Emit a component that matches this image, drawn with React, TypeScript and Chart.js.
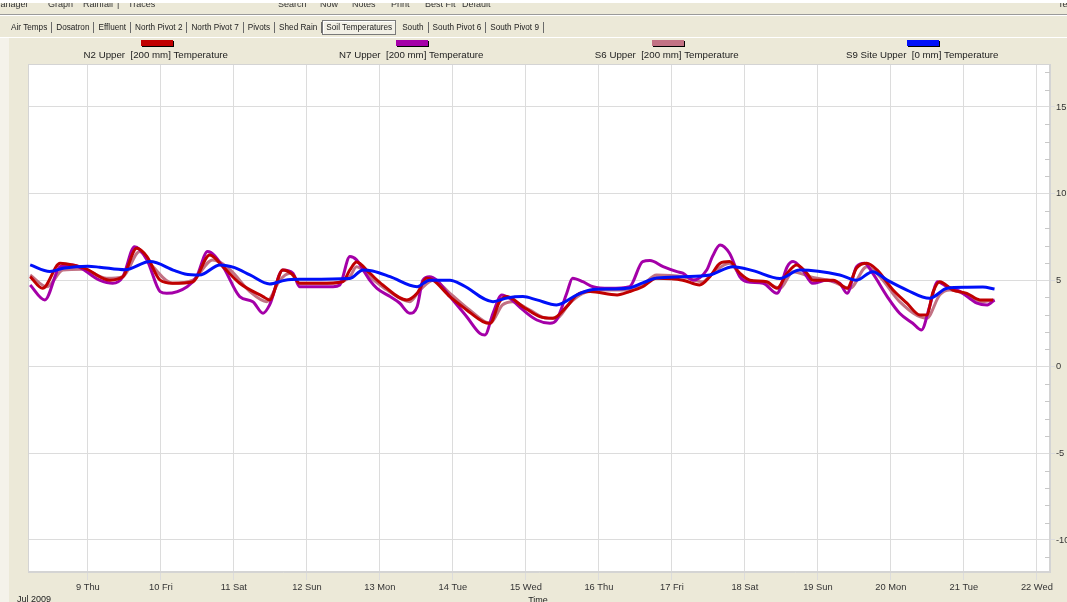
import React, { useEffect, useRef } from "react";
import { Chart, registerables } from "chart.js";

Chart.register(...registerables);

// ---------- data ----------
const seriesNames = [
  "N2 Upper  [200 mm] Temperature",
  "N7 Upper  [200 mm] Temperature",
  "S6 Upper  [200 mm] Temperature",
  "S9 Site Upper  [0 mm] Temperature",
];
const seriesColors = ["#C00000", "#A400A8", "#C27284", "#0010F8"];
const drawOrder = [1, 2, 3, 0];

// x values are day-of-month (July 2009), y values °C
const n2Days = [8.21, 8.38, 8.62, 8.79, 8.99, 9.16, 9.3, 9.48, 9.67, 9.81, 9.99, 10.16, 10.44, 10.67, 10.85, 11.08, 11.4, 11.49, 11.67, 11.81, 11.9, 12.18, 12.49, 12.59, 12.68, 12.86, 13.04, 13.37, 13.51, 13.64, 13.73, 13.96, 14.19, 14.41, 14.51, 14.64, 14.74, 14.96, 15.19, 15.37, 15.56, 15.7, 15.88, 16.25, 16.42, 16.6, 16.79, 17.15, 17.38, 17.52, 17.66, 17.79, 17.93, 18.07, 18.3, 18.44, 18.58, 18.71, 18.85, 18.93, 19.21, 19.4, 19.53, 19.67, 19.81, 20.03, 20.22, 20.4, 20.49, 20.58, 20.67, 20.85, 21.04, 21.22, 21.4];
const n2Temps = [5.2, 4.53, 5.97, 5.88, 5.63, 5.2, 5.0, 5.2, 6.84, 6.36, 5.0, 4.82, 4.91, 6.45, 5.78, 4.82, 4.05, 3.86, 5.59, 5.3, 4.82, 4.82, 4.91, 5.59, 6.05, 5.4, 4.72, 3.86, 4.24, 5.11, 5.0, 4.05, 3.28, 2.61, 2.51, 3.76, 4.05, 3.47, 2.89, 2.8, 3.47, 4.15, 4.34, 4.15, 4.34, 4.62, 5.11, 5.0, 4.72, 5.2, 5.97, 6.07, 5.4, 5.0, 4.91, 4.53, 5.4, 5.88, 5.4, 5.0, 5.0, 4.53, 5.69, 5.97, 5.59, 4.43, 3.67, 2.99, 2.99, 4.34, 4.91, 4.43, 4.24, 3.86, 3.86];

const n7Days = [8.21, 8.41, 8.62, 8.79, 9.16, 9.34, 9.48, 9.64, 9.81, 9.99, 10.08, 10.36, 10.49, 10.64, 10.85, 11.08, 11.26, 11.4, 11.49, 11.67, 11.81, 11.9, 12.36, 12.45, 12.59, 12.68, 12.86, 12.96, 13.14, 13.27, 13.41, 13.51, 13.59, 13.68, 13.78, 13.96, 14.19, 14.37, 14.44, 14.55, 14.67, 14.78, 14.96, 15.15, 15.33, 15.42, 15.56, 15.64, 15.78, 15.92, 16.15, 16.42, 16.6, 16.7, 16.88, 17.07, 17.15, 17.29, 17.48, 17.56, 17.66, 17.79, 17.93, 18.03, 18.25, 18.44, 18.58, 18.66, 18.79, 18.93, 19.12, 19.3, 19.4, 19.53, 19.64, 19.75, 19.95, 20.12, 20.3, 20.42, 20.53, 20.64, 20.77, 20.95, 21.18, 21.32, 21.42];
const n7Temps = [4.72, 3.86, 5.78, 5.88, 5.0, 4.82, 5.2, 6.93, 6.17, 4.34, 4.24, 4.62, 5.2, 6.65, 5.78, 4.05, 3.76, 3.09, 3.57, 5.59, 5.4, 4.62, 4.62, 4.72, 6.36, 6.17, 5.0, 4.53, 4.05, 3.68, 3.09, 3.47, 5.0, 5.2, 5.0, 4.05, 2.89, 1.93, 1.84, 3.09, 4.15, 3.95, 3.28, 2.7, 2.51, 2.7, 4.24, 5.11, 4.91, 4.62, 4.53, 4.62, 6.07, 6.13, 5.78, 5.49, 5.4, 5.0, 5.6, 6.4, 7.03, 6.55, 5.2, 4.91, 4.82, 4.24, 5.78, 6.07, 5.59, 4.82, 5.0, 4.82, 4.24, 5.78, 5.97, 5.4, 4.05, 3.09, 2.51, 2.12, 3.47, 4.91, 4.62, 4.34, 3.67, 3.57, 3.86];

const s6Days = [8.21, 8.44, 8.66, 8.93, 9.26, 9.48, 9.71, 9.89, 10.16, 10.44, 10.71, 10.95, 11.22, 11.45, 11.63, 11.77, 11.9, 12.36, 12.59, 12.68, 12.86, 13.1, 13.41, 13.55, 13.73, 13.96, 14.23, 14.51, 14.68, 14.82, 15.05, 15.29, 15.42, 15.6, 15.78, 16.05, 16.42, 16.6, 16.79, 17.15, 17.42, 17.56, 17.79, 17.97, 18.3, 18.48, 18.66, 18.89, 19.21, 19.44, 19.67, 19.85, 20.12, 20.49, 20.67, 20.81, 21.04, 21.26, 21.42];
const s6Temps = [5.3, 4.62, 5.59, 5.63, 5.11, 5.2, 6.65, 5.78, 4.82, 5.0, 6.17, 5.59, 4.34, 3.76, 5.0, 5.4, 4.82, 4.82, 5.2, 5.78, 5.2, 4.43, 3.76, 4.43, 5.0, 4.24, 3.28, 2.51, 3.57, 3.76, 3.28, 2.8, 2.8, 3.67, 4.24, 4.43, 4.43, 4.72, 5.3, 5.2, 4.91, 5.4, 5.97, 5.11, 4.82, 4.53, 5.49, 5.2, 4.91, 4.53, 5.78, 5.2, 3.76, 2.8, 4.15, 4.43, 4.15, 3.76, 3.86];

const s9Days = [8.21, 8.48, 8.68, 9.0, 9.16, 9.51, 9.85, 10.19, 10.33, 10.53, 10.81, 11.01, 11.22, 11.49, 11.7, 11.9, 12.59, 12.77, 12.9, 13.14, 13.51, 13.68, 13.96, 14.14, 14.55, 14.74, 14.96, 15.15, 15.42, 15.7, 15.88, 16.15, 16.42, 16.6, 16.79, 17.15, 17.52, 17.84, 18.11, 18.48, 18.75, 19.3, 19.53, 19.75, 19.95, 20.22, 20.53, 20.77, 21.04, 21.26, 21.42];
const s9Temps = [5.88, 5.5, 5.7, 5.8, 5.75, 5.6, 6.07, 5.55, 5.36, 5.3, 5.88, 5.72, 5.3, 4.78, 5.0, 5.05, 5.1, 5.59, 5.53, 5.2, 4.62, 5.0, 5.0, 4.7, 3.76, 3.97, 4.05, 3.86, 3.57, 4.15, 4.43, 4.49, 4.55, 4.84, 5.12, 5.2, 5.3, 5.78, 5.55, 5.1, 5.59, 5.3, 5.0, 5.49, 5.0, 4.43, 3.95, 4.53, 4.59, 4.6, 4.49];

const dayTicks = [9, 10, 11, 12, 13, 14, 15, 16, 17, 18, 19, 20, 21, 22];
const dayLabels = ["9 Thu", "10 Fri", "11 Sat", "12 Sun", "13 Mon", "14 Tue", "15 Wed", "16 Thu", "17 Fri", "18 Sat", "19 Sun", "20 Mon", "21 Tue", "22 Wed"];
const xMin = 8.18;
const xMax = 22.18;
const yTickValues = [-10, -5, 0, 5, 10, 15];
const yMin = -11.85;
const yMax = 17.48;
const monthLabel = "Jul 2009";
const xTitle = "Time";

const toolbarItems = [
  { text: "Manager", left: -7 },
  { text: "Graph", left: 48 },
  { text: "Rainfall", left: 83 },
  { text: "|", left: 117 },
  { text: "Traces", left: 128 },
  { text: "Search", left: 278 },
  { text: "Now", left: 320 },
  { text: "Notes", left: 352 },
  { text: "Print", left: 391 },
  { text: "Best Fit", left: 425 },
  { text: "Default", left: 462 },
  { text: "Te", left: 1058 },
];
const tabLabels = ["Air Temps", "Dosatron", "Effluent", "North Pivot 2", "North Pivot 7", "Pivots", "Shed Rain", "Soil Temperatures", "South", "South Pivot 6", "South Pivot 9"];
const selectedTab = "Soil Temperatures";

const FONT = '"Liberation Sans", Arial, sans-serif';

function toPoints(days: number[], temps: number[]) {
  return days.map((d, i) => ({ x: d, y: temps[i] }));
}

const chromePlugin = {
  id: "chrome",
  beforeDraw(chart: any) {
    const { ctx, chartArea, width, height } = chart;
    ctx.save();
    ctx.fillStyle = "#ECE9D8";
    ctx.fillRect(0, 0, width, height);
    ctx.fillStyle = "#F4F2EA";
    ctx.fillRect(0, 37, 9, height - 37);
    ctx.fillStyle = "#FFFFFF";
    ctx.fillRect(chartArea.left, chartArea.top, chartArea.right - chartArea.left, chartArea.bottom - chartArea.top);
    ctx.restore();
  },
  afterDraw(chart: any) {
    const { ctx, chartArea, scales } = chart;
    ctx.save();
    // frame
    ctx.strokeStyle = "#D4D4D4";
    ctx.lineWidth = 1;
    ctx.strokeRect(chartArea.left + 0.5, chartArea.top + 0.5, chartArea.right - chartArea.left - 1, chartArea.bottom - chartArea.top - 1);
    // minor ticks on right axis
    const ys = scales.y;
    ctx.strokeStyle = "#C8C8C8";
    for (let v = Math.ceil(yMin); v <= Math.floor(yMax); v++) {
      if (v % 5 === 0) continue;
      const py = Math.round(ys.getPixelForValue(v)) + 0.5;
      ctx.beginPath();
      ctx.moveTo(chartArea.right - 5, py);
      ctx.lineTo(chartArea.right, py);
      ctx.stroke();
    }
    // legend
    const w = (chartArea.right - chartArea.left) / seriesNames.length;
    ctx.font = `9.7px ${FONT}`;
    ctx.textAlign = "center";
    ctx.textBaseline = "middle";
    seriesNames.forEach((name, i) => {
      const cx = chartArea.left + w * (i + 0.5);
      const sx = Math.round(cx - 15);
      ctx.fillStyle = "#000000";
      ctx.fillRect(sx + 1, 41, 32, 6);
      ctx.fillStyle = seriesColors[i];
      ctx.fillRect(sx, 40, 32, 6);
      ctx.fillStyle = "#222222";
      ctx.fillText(name, cx, 55);
    });
    // bottom labels
    ctx.font = `9px ${FONT}`;
    ctx.textBaseline = "top";
    ctx.textAlign = "left";
    ctx.fillText(monthLabel, 17, 595);
    ctx.textAlign = "center";
    ctx.fillText(xTitle, 538, 596);
    ctx.restore();
  },
};

export default function App() {
  const canvasRef = useRef<HTMLCanvasElement | null>(null);

  useEffect(() => {
    const canvas = canvasRef.current;
    if (!canvas) return;
    const allDays = [n2Days, n7Days, s6Days, s9Days];
    const allTemps = [n2Temps, n7Temps, s6Temps, s9Temps];
    const chart = new Chart(canvas, {
      type: "line",
      data: {
        datasets: seriesNames.map((name, i) => ({
          label: name,
          data: toPoints(allDays[i], allTemps[i]),
          borderColor: seriesColors[i],
          backgroundColor: seriesColors[i],
          borderWidth: 3,
          pointRadius: 0,
          cubicInterpolationMode: "monotone" as const,
          fill: false,
          order: drawOrder[i],
        })),
      },
      options: {
        animation: false,
        responsive: true,
        maintainAspectRatio: false,
        parsing: false as any,
        layout: { padding: { top: 64, left: 28, right: 0, bottom: 0 } },
        plugins: { legend: { display: false }, tooltip: { enabled: false } },
        scales: {
          x: {
            type: "linear",
            position: "bottom",
            min: xMin,
            max: xMax,
            afterBuildTicks: (axis: any) => {
              axis.ticks = dayTicks.map((v) => ({ value: v }));
            },
            afterFit: (axis: any) => {
              axis.height = 30;
            },
            grid: { color: "#DCDCDC", lineWidth: 1, tickLength: 8, drawTicks: true },
            border: { color: "#D4D4D4" },
            ticks: {
              autoSkip: false,
              maxRotation: 0,
              padding: 2,
              color: "#333333",
              font: { family: FONT, size: 9.3 },
              callback: (v: any) => {
                const idx = dayTicks.indexOf(Number(v));
                return idx >= 0 ? dayLabels[idx] : "";
              },
            },
          },
          y: {
            type: "linear",
            position: "right",
            min: yMin,
            max: yMax,
            afterBuildTicks: (axis: any) => {
              axis.ticks = yTickValues.map((v) => ({ value: v }));
            },
            afterFit: (axis: any) => {
              axis.width = 17;
            },
            grid: { color: "#DCDCDC", lineWidth: 1, tickLength: 5, drawTicks: true },
            border: { color: "#D4D4D4" },
            ticks: {
              padding: 1,
              color: "#333333",
              font: { family: FONT, size: 9.3 },
              callback: (v: any) => String(v),
            },
          },
        },
      },
      plugins: [chromePlugin],
    });
    return () => chart.destroy();
  }, []);

  return (
    <div style={{ position: "fixed", left: 0, top: 0, width: 1067, height: 602, background: "#ECE9D8", overflow: "hidden", fontFamily: FONT }}>
      <canvas ref={canvasRef} style={{ position: "absolute", left: 0, top: 0 }} />
      {toolbarItems.map((t, i) => (
        <div key={i} style={{ position: "absolute", left: t.left, top: -2, fontSize: 9, color: "#333", whiteSpace: "nowrap", lineHeight: "12px" }}>
          {t.text}
        </div>
      ))}
      <div style={{ position: "absolute", left: 0, top: 0, width: 1067, height: 3, background: "#FFFFFF" }} />
      <div style={{ position: "absolute", left: 0, top: 14, width: 1067, height: 1, background: "#9A9A9A" }} />
      <div style={{ position: "absolute", left: 0, top: 15, width: 1067, height: 1, background: "#FFFFFF" }} />
      <div style={{ position: "absolute", left: 7, top: 19, height: 17, display: "flex", alignItems: "center", fontSize: 8.2, color: "#222", whiteSpace: "nowrap" }}>
        {tabLabels.map((t) => {
          const sel = t === selectedTab;
          return (
            <div
              key={t}
              style={{
                padding: sel ? "1px 3px" : "0 4px",
                lineHeight: "11px",
                borderRight: sel ? "1px solid #7A7A7A" : "1px solid #6A6A6A",
                borderLeft: sel ? "1px solid #7A7A7A" : "none",
                borderTop: sel ? "1px solid #7A7A7A" : "none",
                borderBottom: sel ? "1px solid #7A7A7A" : "none",
                background: sel ? "#F2F0E6" : "transparent",
                boxShadow: sel ? "inset 1px 1px 0 #FFFFFF" : "none",
                marginRight: sel ? 2 : 0,
              }}
            >
              {t}
            </div>
          );
        })}
      </div>
      <div style={{ position: "absolute", left: 0, top: 37, width: 1067, height: 1, background: "#FFFFFF" }} />
    </div>
  );
}
